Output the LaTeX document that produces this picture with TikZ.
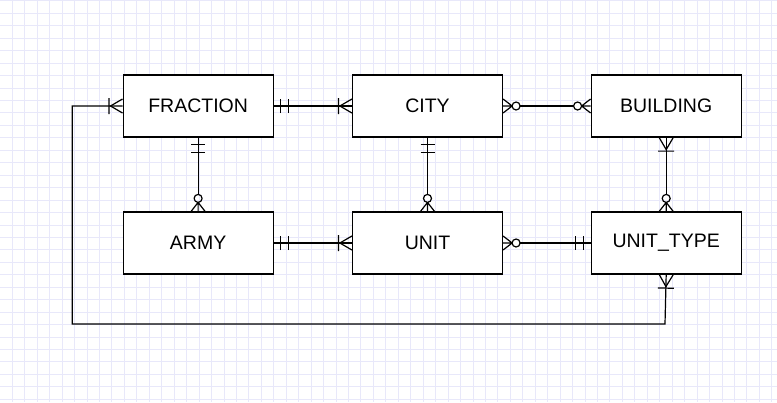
\documentclass[tikz,border=0pt]{standalone}
\usepackage{fontspec}
\setmainfont{Liberation Sans}
\usepackage{tikz}
\usetikzlibrary{matrix}
\definecolor{gridblue}{RGB}{232, 232, 250}

% ER end marks, tip on the box edge
\pgfdeclarearrow{
  name = ermandone,
  setup code = {
    \pgfarrowssettipend{0pt}
    \pgfarrowssetlineend{0pt}
    \pgfarrowssetbackend{-16pt}
  },
  drawing code = {
    \pgfpathmoveto{\pgfqpoint{-7pt}{7pt}}
    \pgfpathlineto{\pgfqpoint{-7pt}{-7pt}}
    \pgfpathmoveto{\pgfqpoint{-15pt}{7pt}}
    \pgfpathlineto{\pgfqpoint{-15pt}{-7pt}}
    \pgfusepathqstroke
  },
  parameters = {},
}
\pgfdeclarearrow{
  name = eronemany,
  setup code = {
    \pgfarrowssettipend{0pt}
    \pgfarrowssetlineend{0pt}
    \pgfarrowssetbackend{-14pt}
  },
  drawing code = {
    \pgfsetroundjoin
    \pgfpathmoveto{\pgfqpoint{0pt}{7pt}}
    \pgfpathlineto{\pgfqpoint{-12pt}{0pt}}
    \pgfpathlineto{\pgfqpoint{0pt}{-7pt}}
    \pgfpathmoveto{\pgfqpoint{-13.5pt}{8pt}}
    \pgfpathlineto{\pgfqpoint{-13.5pt}{-8pt}}
    \pgfusepathqstroke
  },
  parameters = {},
}
\pgfdeclarearrow{
  name = erzeromany,
  setup code = {
    \pgfarrowssettipend{0pt}
    \pgfarrowssetlineend{-17pt}
    \pgfarrowssetbackend{-17pt}
  },
  drawing code = {
    \pgfsetroundjoin
    \pgfpathmoveto{\pgfqpoint{0pt}{7pt}}
    \pgfpathlineto{\pgfqpoint{-9pt}{0pt}}
    \pgfpathlineto{\pgfqpoint{0pt}{-7pt}}
    \pgfpathmoveto{\pgfqpoint{0pt}{0pt}}
    \pgfpathlineto{\pgfqpoint{-9pt}{0pt}}
    \pgfpathcircle{\pgfqpoint{-13pt}{0pt}}{4pt}
    \pgfusepathqstroke
  },
  parameters = {},
}

\begin{document}
\begin{tikzpicture}[x=1pt, y=-1pt,
            entity/.style = {
                draw=black,
                fill=white,
                line width=1.2pt,
                minimum width=150pt,
                minimum height=62pt,
                inner sep=0pt,
                font=\fontsize{19.5}{22}\selectfont,
                },
            gridline/.style = {draw=gridblue, line width=0.8pt},
            relation/.style = {draw=black, line width=1.2pt}]
            \useasboundingbox[fill=white] (0,0) rectangle (777,402);
            \foreach \k in {0,...,62}
                \draw[gridline] ({12.45*\k-0.2},0) -- ++(0,402);
            \foreach \k in {0,...,32}
                \draw[gridline] (0,{12.45*\k+0.8}) -- ++(777,0);

            \matrix [column sep=78.2pt, row sep=73.8pt, inner sep=0pt] at (432.15,174.5) {
            \node[entity] (fraction) {FRACTION}; & \node[entity] (city) {CITY}; &[9.3pt] \node[entity] (building) {BUILDING}; \\
            \node[entity] (army) {ARMY}; & \node[entity] (unit) {UNIT}; &[9.3pt] \node[entity] (unittype) {UNIT\_TYPE}; \\
            };
            \coordinate (loopcorner) at (665,324);

            \draw[relation, ermandone-eronemany] (fraction.east) -- (city.west);
            \draw[relation, erzeromany-erzeromany] (city.east) -- (building.west);
            \draw[relation, ermandone-erzeromany] (fraction.south) -- (army.north);
            \draw[relation, ermandone-erzeromany] (city.south) -- (unit.north);
            \draw[relation, eronemany-erzeromany] (building.south) -- (unittype.north);
            \draw[relation, ermandone-eronemany] (army.east) -- (unit.west);
            \draw[relation, erzeromany-ermandone] (unit.east) -- (unittype.west);
            \draw[relation, eronemany-eronemany] (fraction.west) -- ++(-50.3,0) |- (loopcorner) -- (unittype.south);
        \end{tikzpicture}
\end{document}
